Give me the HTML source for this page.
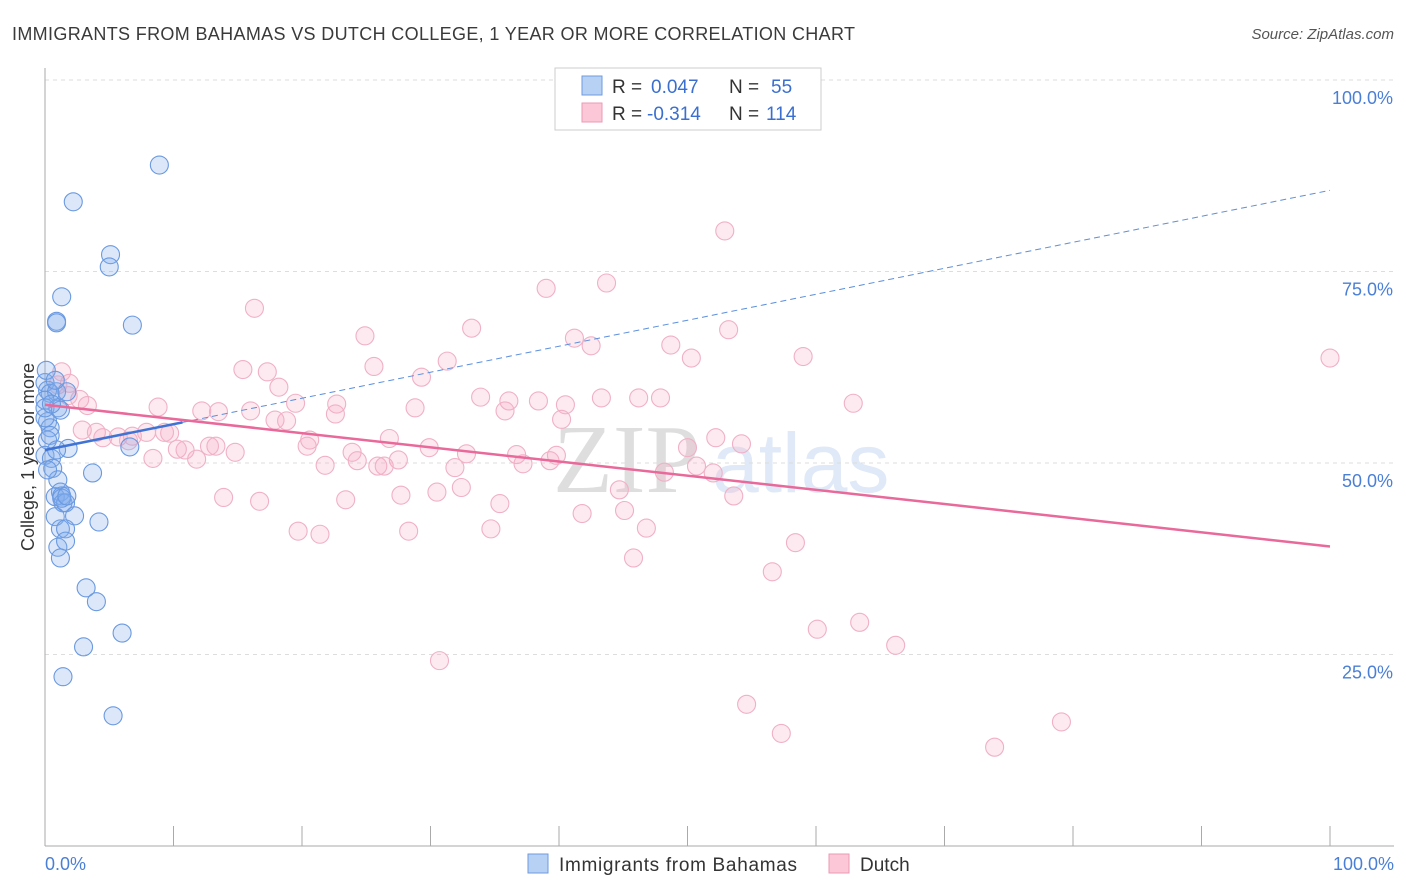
<!DOCTYPE html>
<html><head><meta charset="utf-8"><style>
body{margin:0;background:#fff;width:1406px;height:892px;overflow:hidden;font-family:"Liberation Sans",sans-serif}
svg{position:absolute;left:0;top:0}
</style></head><body>
<svg width="1406" height="892">
<text x="12" y="40" font-size="18" fill="#3a3a3a" textLength="843" lengthAdjust="spacing">IMMIGRANTS FROM BAHAMAS VS DUTCH COLLEGE, 1 YEAR OR MORE CORRELATION CHART</text>
<text x="1394" y="39" font-size="15" fill="#555" font-style="italic" text-anchor="end">Source: ZipAtlas.com</text>
<text x="553" y="492" font-size="98" fill="#dedede" font-family="Liberation Serif,serif">ZIP</text>
<text x="712" y="492" font-size="84" fill="#e0e9f7">atlas</text>
<g id="grid"></g>
<line x1="45" y1="68" x2="45" y2="846" stroke="#aaa"/>
<line x1="45" y1="846" x2="1394" y2="846" stroke="#aaa"/>
<text transform="translate(34,457) rotate(-90)" font-size="18" fill="#333" text-anchor="middle">College, 1 year or more</text>
<text x="45" y="870" font-size="18" fill="#4a7fd6">0.0%</text>
<text x="1394" y="870" font-size="18" fill="#4a7fd6" text-anchor="end">100.0%</text>
<g id="pts"></g>
<g id="trends"></g>
<g>
<rect x="555" y="68" width="266" height="62" fill="#fff" stroke="#ccc"/>
<rect x="582" y="76" width="20" height="19" fill="#b7d1f4" stroke="#6f9be0"/>
<rect x="582" y="103" width="20" height="19" fill="#fcc7d6" stroke="#eb9bb5"/>
<text x="612" y="93" font-size="19" fill="#333">R = <tspan fill="#3a6fd0" x="651">0.047</tspan><tspan x="729">N = </tspan><tspan fill="#3a6fd0" x="771">55</tspan></text>
<text x="612" y="120" font-size="19" fill="#333">R = <tspan fill="#3a6fd0" x="647">-0.314</tspan><tspan x="729">N = </tspan><tspan fill="#3a6fd0" x="766">114</tspan></text>
</g>
<g>
<rect x="528" y="854" width="20" height="19" fill="#b7d1f4" stroke="#6f9be0"/>
<text x="559" y="871" font-size="19" fill="#333" textLength="238" lengthAdjust="spacing">Immigrants from Bahamas</text>
<rect x="829" y="854" width="20" height="19" fill="#fcc7d6" stroke="#eb9bb5"/>
<text x="860" y="871" font-size="19" fill="#333">Dutch</text>
</g>
</svg>
<script>
const yTicks=[25,50,75,100];
const xTicks=[10,20,30,40,50,60,70,80,90,100];
const blueX=[8.9,2.2,5.1,5.0,1.3,0.9,0.9,6.8,0,0.2,0.4,0.9,1.7,0,1.0,0.2,0.4,0.2,0,0.5,1.8,6.6,0.6,3.7,1.0,1.2,0.8,1.3,1.4,1.6,2.3,0.8,4.2,1.2,1.6,1.0,1.6,1.2,3.2,4.0,6.0,3.0,1.4,5.3,0,0,0.4,0.9,1.2,0.5,0.1,0.8,0.2,1.3,1.7];
const blueY=[88.9,84.1,77.2,75.6,71.7,68.5,68.3,68.0,60.5,59.5,59.1,59.3,59.3,58.2,57.2,55.4,54.6,53.0,51.0,50.6,51.9,52.1,49.3,48.7,47.8,46.2,45.6,45.7,44.8,44.8,43.1,43.0,42.3,41.4,41.4,39.0,39.8,37.6,33.7,31.9,27.8,26.0,22.1,17.0,55.9,57.2,53.6,51.7,56.9,57.7,62.1,60.8,49.1,45.4,45.7];
const pinkX=[1.3,1.0,1.9,16.3,24.9,33.2,39.0,43.7,52.9,53.2,41.2,42.5,48.7,50.3,59.0,100,15.4,17.3,25.6,31.3,29.3,18.2,33.9,36.1,38.4,43.3,46.2,47.9,62.9,19.5,22.7,28.8,8.8,12.2,13.5,16.0,3.3,17.9,18.8,22.6,35.8,40.5,40.2,4.0,4.5,5.7,6.8,7.9,6.5,9.3,9.7,13.3,10.9,10.3,12.8,14.8,8.4,11.8,20.4,20.6,23.9,26.8,29.9,32.8,36.7,39.8,50.0,52.2,54.2,21.8,24.3,25.9,27.5,26.4,31.9,37.2,39.3,48.2,50.7,52.0,32.4,44.7,27.7,30.5,13.9,16.7,23.4,35.4,53.6,41.8,45.1,19.7,21.4,28.3,34.7,46.8,58.4,45.8,56.6,60.1,63.4,66.2,30.7,54.6,57.3,73.9,79.1,1.8,2.7,2.9];
const pinkY=[61.9,60.2,60.4,70.2,66.6,67.6,72.8,73.5,80.3,67.4,66.3,65.3,65.4,63.7,63.9,63.7,62.2,61.9,62.6,63.3,61.2,59.9,58.6,58.1,58.1,58.5,58.5,58.5,57.8,57.8,57.7,57.2,57.3,56.8,56.7,56.8,57.5,55.6,55.5,56.4,56.8,57.6,55.7,54.0,53.3,53.4,53.5,54.0,52.9,54.0,53.9,52.2,51.7,51.8,52.2,51.4,50.6,50.5,52.2,53.0,51.4,53.2,52.0,51.2,51.1,51.0,52.0,53.3,52.5,49.7,50.3,49.6,50.4,49.6,49.4,49.9,50.3,48.8,49.6,48.7,46.8,46.5,45.8,46.2,45.5,45.0,45.2,44.7,45.7,43.4,43.8,41.1,40.7,41.1,41.4,41.5,39.6,37.6,35.8,28.3,29.2,26.2,24.2,18.5,14.7,12.9,16.2,58.8,58.3,54.3];
const blueTrend=[[0,51.7],[10.7,55.3],[100,85.6]];
const pinkTrend=[[0,57.6],[100,39.1]];
const X=v=>45+v*12.85, Y=v=>846-v*7.66;
const NS='http://www.w3.org/2000/svg';
function mk(t,a,p){const e=document.createElementNS(NS,t);for(const k in a)e.setAttribute(k,a[k]);p.appendChild(e);return e;}
const grid=document.getElementById('grid');
yTicks.forEach(v=>{
 const l=mk('line',{x1:45,x2:1394,y1:Y(v),y2:Y(v),stroke:'#ddd','stroke-dasharray':'4,4'},grid);
 
 
 const t=mk('text',{x:1393,y:Y(v)+24,'font-size':18,fill:'#4a7fd6','text-anchor':'end'},grid);
 t.textContent=v.toFixed(1)+'%';
 
 
});
xTicks.forEach(v=>{
 const l=mk('line',{x1:X(v),x2:X(v),y1:826,y2:846,stroke:'#aaa'},grid);
 
 
});
const pts=document.getElementById('pts');
pinkX.forEach((x,i)=>{
 const c=mk('circle',{cx:X(x),cy:Y(pinkY[i]),r:9,fill:'rgba(246,170,195,0.25)',stroke:'#f0b0c6','stroke-width':1.1},pts);
 
 
});
blueX.forEach((x,i)=>{
 const c=mk('circle',{cx:X(x),cy:Y(blueY[i]),r:9,fill:'rgba(130,172,238,0.28)',stroke:'#6a99e0','stroke-width':1.1},pts);
 
 
});
const tr=document.getElementById('trends');
let l=mk('line',{x1:X(blueTrend[0][0]),y1:Y(blueTrend[0][1]),x2:X(blueTrend[1][0]),y2:Y(blueTrend[1][1]),stroke:'#3f74d4','stroke-width':2.5},tr);


l=mk('line',{x1:X(blueTrend[1][0]),y1:Y(blueTrend[1][1]),x2:X(blueTrend[2][0]),y2:Y(blueTrend[2][1]),stroke:'#5c8fdc','stroke-width':1,'stroke-dasharray':'6,4'},tr);


l=mk('line',{x1:X(pinkTrend[0][0]),y1:Y(pinkTrend[0][1]),x2:X(pinkTrend[1][0]),y2:Y(pinkTrend[1][1]),stroke:'#e8699a','stroke-width':2.5},tr);


</script>
</body></html>
